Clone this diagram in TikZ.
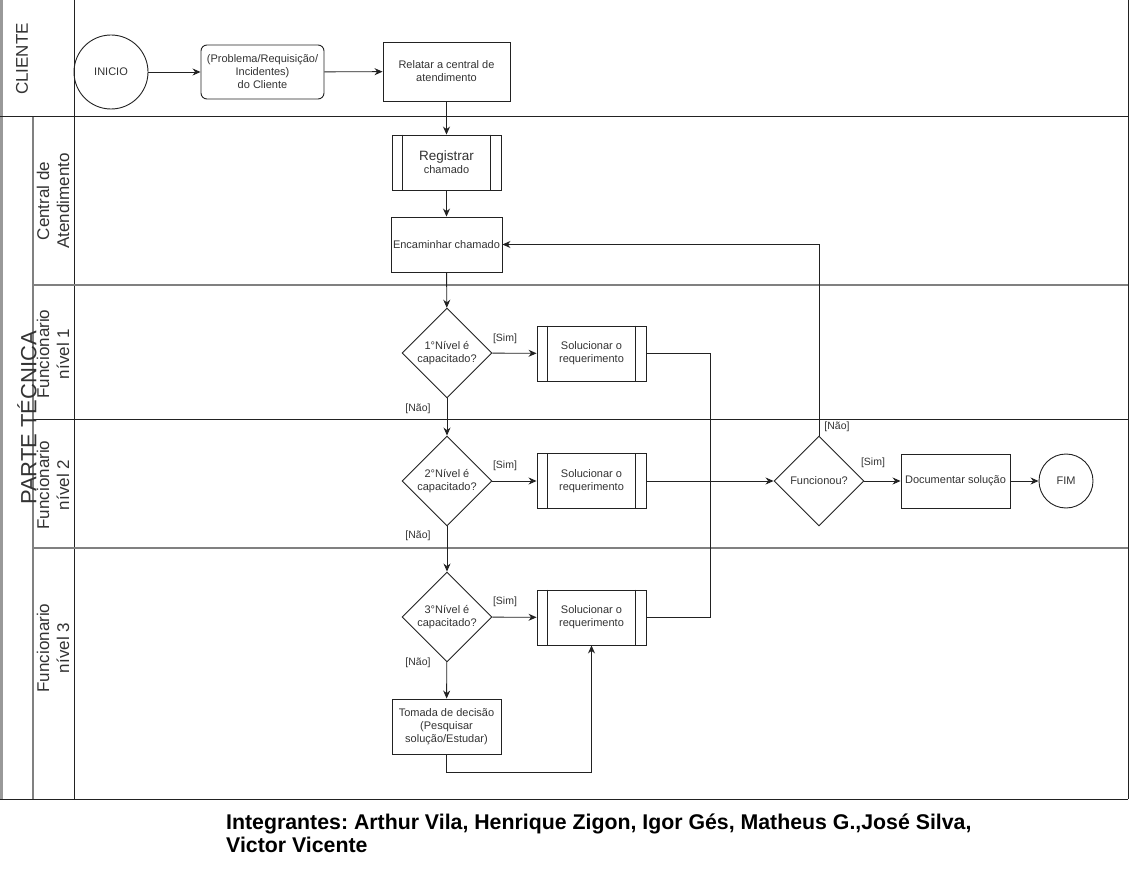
\documentclass[tikz,border=0pt]{standalone}
\usepackage{fontspec}
\setmainfont{Liberation Sans}
\usetikzlibrary{shapes.geometric,arrows.meta}
\definecolor{linec}{HTML}{222222}
\definecolor{txtc}{HTML}{333333}
\tikzset{
  box/.style={draw=linec,line width=0.9pt,minimum width=109pt,minimum height=55pt,inner sep=2pt,align=center,font=\fontsize{11}{13}\selectfont,text=txtc},
  dec/.style={diamond,draw=linec,line width=0.9pt,minimum width=90pt,minimum height=90pt,inner sep=0pt,align=center,font=\fontsize{11}{13}\selectfont,text=txtc},
  term/.style={circle,draw=linec,line width=0.9pt,inner sep=0pt,font=\fontsize{11}{13}\selectfont,text=txtc},
  arr/.style={draw=linec,line width=0.9pt,-{Stealth[length=8pt,width=7pt]}},
  conn/.style={draw=linec,line width=0.9pt},
  lane/.style={draw=linec,line width=1pt},
  graylane/.style={draw=gray,line width=1.2pt},
  lbl/.style={font=\fontsize{10.5}{12}\selectfont,text=txtc,inner sep=0pt},
  lanetxt/.style={rotate=90,align=center,font=\fontsize{17}{20}\selectfont,text=txtc,inner sep=0pt}
}
\begin{document}
\frenchspacing
\begin{tikzpicture}[x=1pt,y=-1pt]
\useasboundingbox (0,0) rectangle (1144,869);
\fill[white] (0,0) rectangle (1144,869);
% swimlane frame
\draw[draw=gray!80,line width=3pt] (1.5,0) -- (1.5,799);
\draw[lane] (74,0) -- (74,799);
\draw[lane] (1128,0) -- (1128,799);
\draw[lane] (0,799) -- (1128,799);
\draw[lane] (0,117) -- (1128,117);
\draw[graylane] (33,117) -- (33,799);
\draw[graylane] (33,285) -- (1128,285);
\draw[lane] (33,419) -- (1128,419);
\draw[graylane] (33,548) -- (1128,548);
% lane labels
\node[lanetxt] (lcli) at (22,59) {CLIENTE};
\node[lanetxt,font=\fontsize{22}{24}\selectfont] (lpt) at (27,418) {PARTE TÉCNICA};
\node[lanetxt] (lcen) at (53,201) {Central de\\Atendimento};
\node[lanetxt] (ln1) at (53,354) {Funcionario\\nível 1};
\node[lanetxt] (ln2) at (53,485) {Funcionario\\nível 2};
\node[lanetxt] (ln3) at (53,648) {Funcionario\\nível 3};
% nodes
\node[term,minimum size=74pt] (inicio) at (111,72) {INICIO};
\node[box,rounded corners=6pt,minimum width=123pt,minimum height=54pt] (prob) at (262.5,72) {(Problema/Requisição/\\Incidentes)\\do Cliente};
\node[box,minimum width=127pt,minimum height=59pt] (relatar) at (446.5,71.5) {Relatar a central de\\atendimento};
\node[box] (reg) at (446.5,162.5) {{\fontsize{13.5}{15}\selectfont Registrar}\\chamado};
\node[box] (enc) at (446.5,244.5) {Encaminhar chamado};
\node[dec] (d1) at (447,353) {1°Nível é\\capacitado?};
\node[box] (sol1) at (591.5,353.5) {Solucionar o\\requerimento};
\node[dec] (d2) at (447,481) {2°Nível é\\capacitado?};
\node[box] (sol2) at (591.5,481) {Solucionar o\\requerimento};
\node[dec] (d3) at (447,617) {3°Nível é\\capacitado?};
\node[box] (sol3) at (591.5,617.5) {Solucionar o\\requerimento};
\node[box] (tom) at (446.5,726.5) {Tomada de decisão\\(Pesquisar\\solução/Estudar)};
\node[dec] (func) at (819,481) {Funcionou?};
\node[box,minimum height=54pt] (doc) at (955.5,481) {Documentar solução};
\node[term,minimum size=54pt] (fim) at (1066,481) {FIM};
% predefined-process side bars
\foreach \n in {reg,sol1,sol2,sol3}{
  \draw[conn] ([xshift=11pt]\n.north west) -- ([xshift=11pt]\n.south west);
  \draw[conn] ([xshift=-11pt]\n.north east) -- ([xshift=-11pt]\n.south east);
}
% connectors
\coordinate (jx) at (710,0);
\draw[arr] (inicio) -- (prob);
\draw[arr] (prob) -- (relatar);
\draw[arr] (relatar) -- (reg);
\draw[arr] (reg) -- (enc);
\draw[arr] (enc) -- (d1);
\draw[arr] (d1) -- (sol1);
\draw[arr] (d1) -- (d2);
\draw[arr] (d2) -- (sol2);
\draw[arr] (d2) -- (d3);
\draw[arr] (d3) -- (sol3);
\draw[arr] (d3) -- (tom);
\draw[arr] (tom.south) -- ++(0,18) -| (sol3.south);
\draw[conn] (sol1.east) -- (sol1.east -| jx) |- (sol3.east);
\draw[arr] (sol2) -- (func);
\draw[arr] (func.north) |- (enc.east);
\draw[arr] (func) -- (doc);
\draw[arr] (doc) -- (fim);
% branch labels
\node[lbl] (s1) at (505,339) {[Sim]};
\node[lbl] (n1) at (418,409) {[Não]};
\node[lbl] (s2) at (505,466) {[Sim]};
\node[lbl] (n2) at (418,536) {[Não]};
\node[lbl] (s3) at (505,602) {[Sim]};
\node[lbl] (n3) at (418,663) {[Não]};
\node[lbl] (nf) at (837,427) {[Não]};
\node[lbl] (sf) at (873,463) {[Sim]};
% footer
\node[anchor=north west,inner sep=0pt,align=left,font=\bfseries\fontsize{21.3}{23}\selectfont] (foot) at (226,814) {Integrantes: Arthur Vila, Henrique Zigon, Igor Gés, Matheus G.,José Silva,\\Victor Vicente};
\end{tikzpicture}
\end{document}
